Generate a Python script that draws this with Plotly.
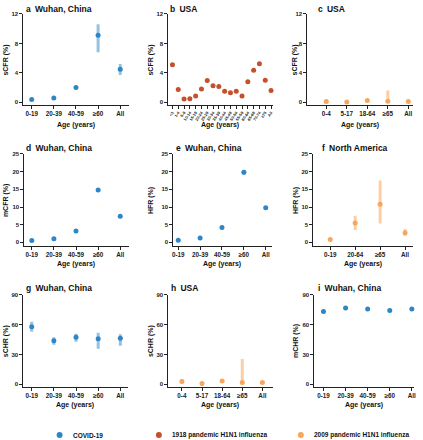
import plotly.graph_objects as go

# ---------------- data ----------------
wuhan_cats = ["0-19", "20-39", "40-59", "≥60", "All"]
usa_cats = ["0-4", "5-17", "18-64", "≥65", "All"]
na_cats = ["0-19", "20-64", "≥65", "All"]
b_cats = ["<1", "1-4", "5-9", "10-14", "15-19", "20-24", "25-29", "30-34", "35-39",
          "40-44", "45-49", "50-54", "55-59", "60-64", "65-69", "70-74", "≥75", "All"]

a_vals = [0.4, 0.6, 2.0, 9.1, 4.5]
a_lo = [0.3, 0.5, 1.8, 6.8, 3.7]
a_hi = [0.5, 0.7, 2.2, 10.6, 5.2]

b_vals = [5.1, 1.75, 0.45, 0.5, 0.85, 1.8, 2.95, 2.25, 2.15, 1.5, 1.3, 1.5, 0.85,
          2.8, 4.35, 5.25, 3.0, 1.6]

c_vals = [0.1, 0.05, 0.25, 0.15, 0.1]
c_lo = [0.05, 0.02, 0.15, 0.0, 0.05]
c_hi = [0.15, 0.1, 0.35, 1.6, 0.15]

d_vals = [0.5, 1.0, 3.2, 14.8, 7.4]
d_lo = [0.4, 0.8, 2.9, 14.3, 7.1]
d_hi = [0.6, 1.2, 3.5, 15.3, 7.7]

e_vals = [0.6, 1.2, 4.2, 19.8, 9.8]
e_lo = [0.5, 1.0, 3.9, 19.1, 9.5]
e_hi = [0.7, 1.4, 4.5, 20.4, 10.1]

f_vals = [0.8, 5.5, 10.8, 2.7]
f_lo = [0.5, 3.5, 5.3, 1.8]
f_hi = [1.1, 7.5, 17.5, 3.8]

g_vals = [58, 44, 47.5, 46, 46.5]
g_lo = [53, 40, 43, 36, 39]
g_hi = [63, 47.5, 51, 52, 50.5]

h_vals = [3, 1, 3.5, 1.8, 1.8]
h_lo = [1, 0.5, 1.5, 0, 1]
h_hi = [5.5, 1.5, 5.5, 25.5, 2.5]

i_vals = [73.5, 76.8, 76, 74.5, 75.8]
i_lo = [72.5, 76, 75.2, 73.5, 75]
i_hi = [74.5, 77.6, 76.8, 75.5, 76.6]

legend_names = ["COVID-19", "1918 pandemic H1N1 influenza", "2009 pandemic H1N1 influenza"]

# ---------------- styling ----------------
W, H = 423, 440
FONT = "Liberation Sans"
COL = {"covid": "#2e86c6", "1918": "#c4502c", "2009": "#f8a65c"}
ECOL = {"covid": "rgba(46,134,198,0.5)", "1918": "rgba(196,80,44,0.5)", "2009": "rgba(248,166,92,0.55)"}

row_y = {1: (11, 103), 2: (152, 245), 3: (294, 387)}
row_range = {1: [-0.4, 12], 2: [-1.12, 25], 3: [-3, 90]}
row_ticks = {1: [0, 4, 8, 12], 2: [0, 5, 10, 15, 20, 25], 3: [0, 30, 60, 90]}
row_xtitle_y = {1: 123, 2: 263, 3: 405}
row_title_y = {1: 6, 2: 146, 3: 287}

panels = [
    # letter, place, row, x0, x1, cats, vals, lo, hi, series, ylabel, xrange, ytitle_x, title_x
    ("a", "Wuhan, China", 1, 22, 129, wuhan_cats, a_vals, a_lo, a_hi, "covid", "sCFR (%)", [-0.4, 4.4], 5, 23),
    ("b", "USA", 1, 168, 274, b_cats, b_vals, None, None, "1918", "sCFR (%)", [-0.8, 17.35], 151, 168),
    ("c", "USA", 1, 308, 415, usa_cats, c_vals, c_lo, c_hi, "2009", "sCFR (%)", [-0.95, 4.23], 296, 317),
    ("d", "Wuhan, China", 2, 23, 129, wuhan_cats, d_vals, d_lo, d_hi, "covid", "mCFR (%)", [-0.36, 4.4], 5, 23),
    ("e", "Wuhan, China", 2, 173, 273, wuhan_cats, e_vals, e_lo, e_hi, "covid", "HFR (%)", [-0.25, 4.29], 151, 174),
    ("f", "North America", 2, 314, 415, na_cats, f_vals, f_lo, f_hi, "2009", "HFR (%)", [-0.7, 3.32], 297, 321),
    ("g", "Wuhan, China", 3, 22, 128, wuhan_cats, g_vals, g_lo, g_hi, "covid", "sCHR (%)", [-0.4, 4.35], 5, 23),
    ("h", "USA", 3, 168, 274, usa_cats, h_vals, h_lo, h_hi, "2009", "sCHR (%)", [-0.7, 4.53], 151, 169),
    ("i", "Wuhan, China", 3, 315, 416, wuhan_cats, i_vals, i_lo, i_hi, "covid", "mCHR (%)", [-0.44, 4.1], 297, 317),
]

fig = go.Figure()
annotations = []
shapes = []

for k, (letter, place, row, x0, x1, cats, vals, lo, hi, ser, ylab, xr, ytx, ttx) in enumerate(panels):
    n = k + 1
    xa = "x" if n == 1 else f"x{n}"
    ya = "y" if n == 1 else f"y{n}"
    xkey = "xaxis" if n == 1 else f"xaxis{n}"
    ykey = "yaxis" if n == 1 else f"yaxis{n}"
    y0, y1 = row_y[row]

    err = None
    if lo is not None:
        err = dict(type="data", symmetric=False,
                   array=[h - v for h, v in zip(hi, vals)],
                   arrayminus=[v - l for v, l in zip(vals, lo)],
                   color=ECOL[ser], thickness=3, width=0)
    fig.add_trace(go.Scatter(
        x=list(range(len(cats))), y=vals, mode="markers",
        marker=dict(color=COL[ser], size=5, line=dict(width=0)),
        error_y=err, xaxis=xa, yaxis=ya, showlegend=False, hoverinfo="skip",
        cliponaxis=False))

    small = letter == "b"
    fig.layout[xkey] = dict(
        domain=[x0 / W, x1 / W], anchor=ya, range=xr,
        tickmode="array", tickvals=list(range(len(cats))), ticktext=cats,
        tickangle=-55 if small else 0,
        tickfont=dict(family=FONT, size=4 if small else 6.3, color="#222", weight="bold"),
        showline=True, linecolor="#222", linewidth=1, ticks="outside",
        ticklen=2.5, tickwidth=1, tickcolor="#222", showgrid=False, zeroline=False)
    fig.layout[ykey] = dict(
        domain=[1 - y1 / H, 1 - y0 / H], anchor=xa, range=row_range[row],
        tickmode="array", tickvals=row_ticks[row],
        tickfont=dict(family=FONT, size=6, color="#222", weight="bold"),
        showline=True, linecolor="#222", linewidth=1, ticks="outside",
        ticklen=2.5, tickwidth=1, tickcolor="#222", showgrid=False, zeroline=False)

    # panel title
    annotations.append(dict(
        text=f"{letter}\u2002{place}", x=ttx / W, y=1 - row_title_y[row] / H,
        xref="paper", yref="paper", xanchor="left", yanchor="middle", showarrow=False,
        font=dict(family=FONT, size=8.5, color="#111", weight="bold")))
    # y title
    annotations.append(dict(
        text=ylab, x=ytx / W, y=1 - ((y0 + y1) / 2) / H, textangle=-90,
        xref="paper", yref="paper", xanchor="center", yanchor="middle", showarrow=False,
        font=dict(family=FONT, size=7, color="#111", weight="bold")))
    # x title
    annotations.append(dict(
        text="Age (years)", x=((x0 + x1) / 2) / W, y=1 - row_xtitle_y[row] / H,
        xref="paper", yref="paper", xanchor="center", yanchor="middle", showarrow=False,
        font=dict(family=FONT, size=7, color="#111", weight="bold")))

# legend (drawn manually to match spacing)
leg_x = [59, 159, 302]
leg_cols = [COL["covid"], COL["1918"], COL["2009"]]
for lx, name, c in zip(leg_x, legend_names, leg_cols):
    shapes.append(dict(type="circle", xref="paper", yref="paper",
                       x0=(lx - 3) / W, x1=(lx + 3) / W,
                       y0=1 - (435 + 3) / H, y1=1 - (435 - 3) / H,
                       fillcolor=c, line=dict(width=0)))
    annotations.append(dict(
        text=name, x=(lx + 11) / W, y=1 - 435 / H, xref="paper", yref="paper",
        xanchor="left", yanchor="middle", showarrow=False,
        font=dict(family=FONT, size=6.5, color="#111", weight="bold")))

fig.update_layout(
    width=W, height=H, margin=dict(l=0, r=0, t=0, b=0),
    paper_bgcolor="white", plot_bgcolor="white",
    annotations=annotations, shapes=shapes, showlegend=False,
    font=dict(family=FONT))

fig.write_html(
    "out.html",
    config={"displayModeBar": False},
    post_script="document.body.style.margin='0';document.body.style.padding='0';"
                "document.body.style.overflow='hidden';")
